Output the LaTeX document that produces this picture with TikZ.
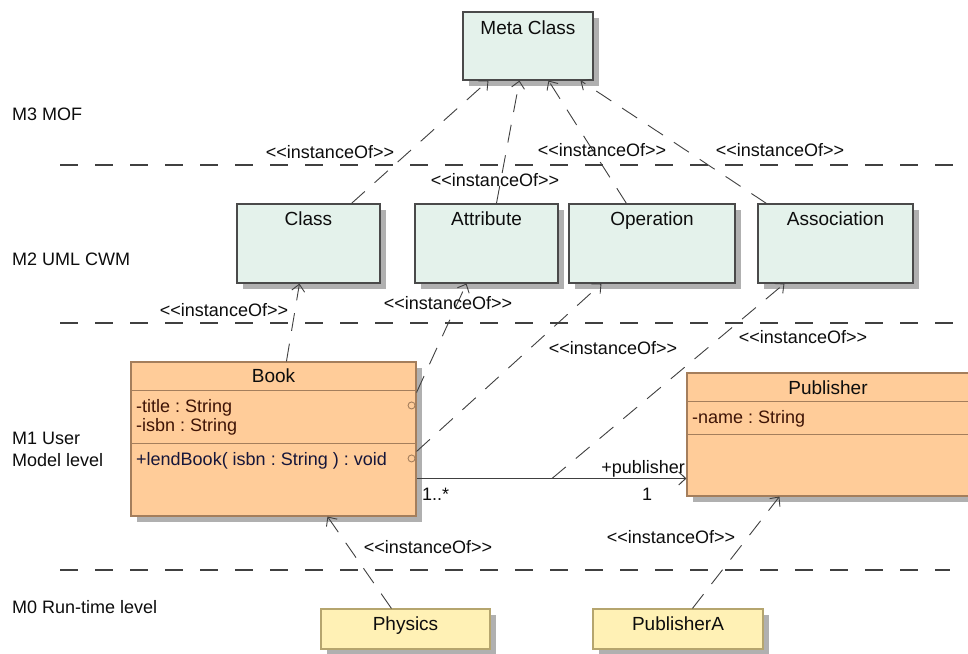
\documentclass[tikz,border=0pt]{standalone}
\usepackage{fontspec}
\setmainfont{Liberation Sans}
\usetikzlibrary{arrows.meta,shadows}
\definecolor{metaF}{HTML}{E4F2EB}
\definecolor{metaB}{HTML}{4A4A4A}
\definecolor{clsF}{HTML}{FFCC99}
\definecolor{clsB}{HTML}{A47E5C}
\definecolor{instF}{HTML}{FFF1B5}
\definecolor{instB}{HTML}{B5A56E}
\definecolor{shadeC}{HTML}{B0B0B0}
\definecolor{lineC}{HTML}{404040}
\definecolor{attrT}{HTML}{3E1406}
\definecolor{operT}{HTML}{16163A}
% stereotype text; the kerns keep << and >> from turning into guillemets
\newcommand\instof{<\kern0pt<instanceOf>\kern0pt>}
\frenchspacing
\begin{document}
\begin{tikzpicture}[x=1pt,y=-1pt,
  every node/.style={font=\fontsize{18}{21}\selectfont},
  txt/.style={inner sep=0pt, anchor=base, text=black!95},
  ltxt/.style={txt, anchor=base west},
  title/.style={txt, font=\fontsize{19}{22}\selectfont},
  shadowed/.style={drop shadow={shadow xshift=6pt,shadow yshift=-6pt,fill=shadeC,opacity=1}},
  metabox/.style={rectangle, draw=metaB, fill=metaF, line width=1.1pt, inner sep=0pt, minimum height=79pt, shadowed},
  classbox/.style={rectangle, draw=clsB, fill=clsF, line width=1.1pt, inner sep=0pt, shadowed},
  instbox/.style={rectangle, draw=instB, fill=instF, line width=1.1pt, inner sep=0pt, minimum height=40pt, shadowed},
  port/.style={circle, draw=clsB, fill=clsF, line width=0.9pt, inner sep=0pt, minimum size=7pt},
  divider/.style={draw=clsB, line width=1.1pt},
  dep/.style={draw=lineC, line width=0.9pt, dash pattern=on 18pt off 13pt, -{Straight Barb[length=7pt,width=13pt]}},
  assocline/.style={draw=lineC, line width=1pt, -{Straight Barb[length=7pt,width=13pt]}},
  level/.style={draw=lineC, line width=1.2pt, dash pattern=on 18pt off 17pt}
]
\fill[white] (0,0) rectangle (968,653);
\useasboundingbox (0,0) rectangle (968,653);

% level separators
\draw[level] (60,165) -- (968,165);
\draw[level] (60,323) -- (968,323);
\draw[level] (60,570) -- (950,570);

% level names
\node[ltxt] (m3) at (12,120) {M3 MOF};
\node[ltxt] (m2) at (12,265) {M2 UML CWM};
\node[ltxt] (m1a) at (12,444) {M1 User};
\node[ltxt] (m1b) at (12,466) {Model level};
\node[ltxt] (m0) at (12,613) {M0 Run-time level};

% M3
\node[metabox, minimum width=130pt, minimum height=68pt] (meta) at (528,46) {};
\node[title] (metat) at (528,34) {Meta Class};

% M2
\node[metabox, minimum width=143pt] (cls) at (308.5,243.5) {};
\node[title] (clst) at (308.5,225) {Class};
\node[metabox, minimum width=143pt] (attr) at (486.5,243.5) {};
\node[title] (attrt) at (486.5,225) {Attribute};
\node[metabox, minimum width=166pt] (oper) at (652,243.5) {};
\node[title] (opert) at (652,225) {Operation};
\node[metabox, minimum width=155pt] (assoc) at (835.5,243.5) {};
\node[title] (assoct) at (835.5,225) {Association};

% M1
\node[classbox, minimum width=285pt, minimum height=154pt] (book) at (273.5,439) {};
\node[title] (bookt) at (273.5,382) {Book};
\draw[divider] ([yshift=-29pt]book.north west) -- ([yshift=-29pt]book.north east);
\draw[divider] ([yshift=-82pt]book.north west) -- ([yshift=-82pt]book.north east);
\node[ltxt, text=attrT] (btitle) at (136,412) {-title : String};
\node[ltxt, text=attrT] (bisbn) at (136,431) {-isbn : String};
\node[ltxt, text=operT] (blend) at (136,465) {+lendBook( isbn : String ) : void};
\node[port] (p1) at ([xshift=-5pt,yshift=-44pt]book.north east) {};
\node[port] (p2) at ([xshift=-5pt,yshift=-97pt]book.north east) {};

\node[classbox, minimum width=286pt, minimum height=123pt] (pub) at (830,434.5) {};
\node[title] (pubt) at (828,394) {Publisher};
\draw[divider] ([yshift=-29pt]pub.north west) -- ([yshift=-29pt]pub.north east);
\draw[divider] ([yshift=-62pt]pub.north west) -- ([yshift=-62pt]pub.north east);
\node[ltxt, text=attrT] (pname) at (692,423) {-name : String};

% M0
\node[instbox, minimum width=169pt] (phys) at (405.5,629) {};
\node[title] (physt) at (405.5,630) {Physics};
\node[instbox, minimum width=170pt] (puba) at (678,629) {};
\node[title] (pubat) at (678,630) {PublisherA};

% association Book -> Publisher
\draw[assocline] ([yshift=-117pt]book.north east) -- coordinate[pos=0.502] (amid) ([yshift=-106pt]pub.north west);
\node[txt, anchor=base east] (role) at (685,473) {+publisher};
\node[txt] (mulp) at (647,500) {1};
\node[ltxt] (mulb) at (422,500) {1..*};

% M2 -> M3
\draw[dep] ([xshift=115pt]cls.north west) -- ([xshift=26pt]meta.south west);
\draw[dep] ([xshift=82pt]attr.north west) -- ([xshift=57pt]meta.south west);
\draw[dep] ([xshift=58pt]oper.north west) -- ([xshift=86pt]meta.south west);
\draw[dep] ([xshift=9pt]assoc.north west) -- ([xshift=118pt]meta.south west);
\node[txt] (l1) at (330,158) {\instof};
\node[txt] (l2) at (495,186) {\instof};
\node[txt] (l3) at (602,156) {\instof};
\node[txt] (l4) at (780,156) {\instof};

% M1 -> M2
\draw[dep] ([xshift=156pt]book.north west) -- ([xshift=63pt]cls.south west);
\draw[dep] ([yshift=-31pt]book.north east) -- ([xshift=52pt]attr.south west);
\draw[dep] ([yshift=-90pt]book.north east) -- ([xshift=33pt]oper.south west);
\draw[dep] (amid) -- ([xshift=27pt]assoc.south west);
\node[txt] (l5) at (224,316) {\instof};
\node[txt] (l6) at (448,309) {\instof};
\node[txt] (l7) at (613,354) {\instof};
\node[txt] (l8) at (803,343) {\instof};

% M0 -> M1
\draw[dep] ([xshift=71pt]phys.north west) -- ([xshift=197pt]book.south west);
\draw[dep] ([xshift=100pt]puba.north west) -- ([xshift=93pt]pub.south west);
\node[txt] (l9) at (428,553) {\instof};
\node[txt] (l10) at (671,543) {\instof};
\end{tikzpicture}
\end{document}
